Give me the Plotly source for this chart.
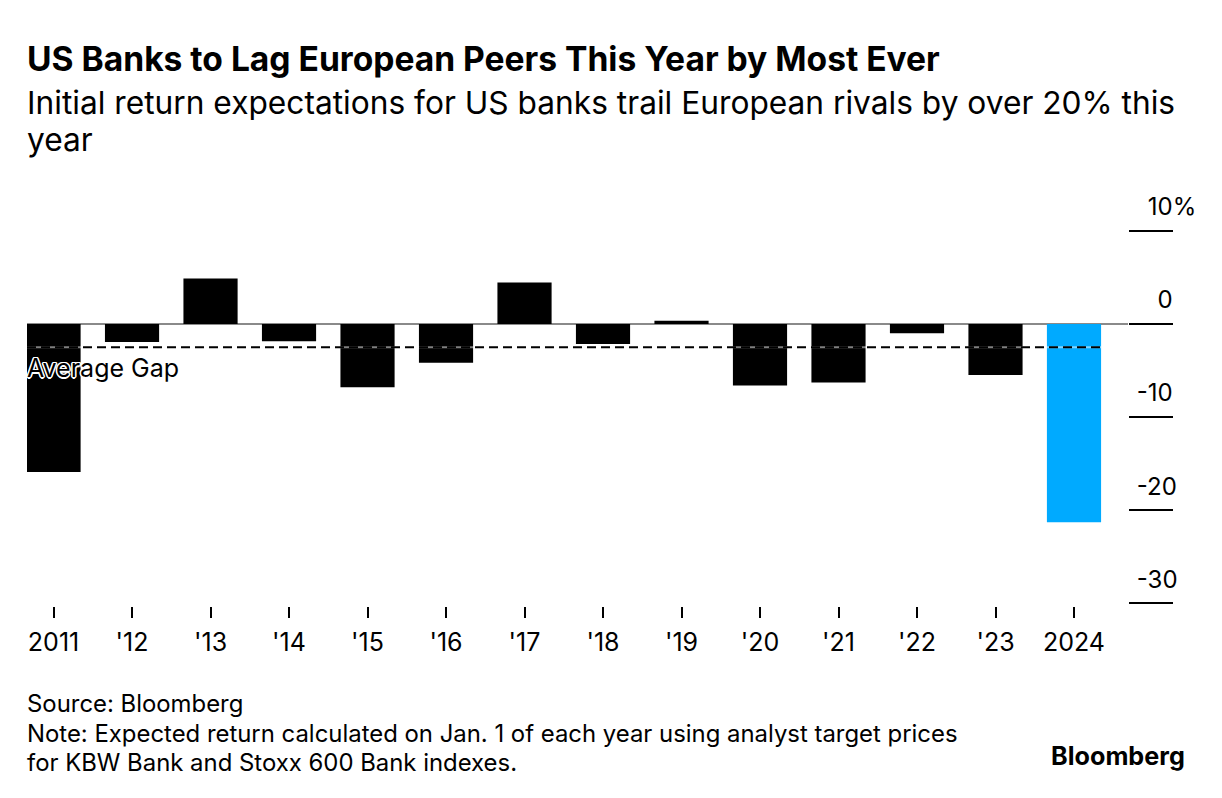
import plotly.graph_objects as go

years = ["2011", "'12", "'13", "'14", "'15", "'16", "'17", "'18", "'19", "'20", "'21", "'22", "'23", "2024"]
gap = [-15.9, -1.94, 4.87, -1.86, -6.8, -4.16, 4.44, -2.15, 0.35, -6.63, -6.3, -1.0, -5.48, -21.3]
avg_gap = -2.5
y_ticks = [-30, -20, -10, 0, 10]
y_ticktext = ["-30", "-20", "-10", "0", "10%"]

FONT = "Inter"
colors = ["#000000"] * (len(years) - 1) + ["#00aaff"]

W, H = 1222, 798
L, R, T, B = 27, 94, 228, 192
pw = W - L - R
ph = H - T - B

def px(x):
    return (x - L) / pw

def py(y):
    return (H - B - y) / ph

# pad labels with invisible characters so digits align like the reference
HID = "<span style='color:rgba(0,0,0,0)'>{}</span>"
def pad_label(s):
    if s.startswith("-"):
        return s
    if s == "0":
        return HID.format("-1") + s
    return HID.format("-") + s

X0 = -0.338
X1 = len(years) - 1 + 0.345
fig = go.Figure()
fig.add_trace(go.Bar(
    x=list(range(len(years))), y=gap, marker=dict(color=colors, line=dict(width=0)),
    width=0.69, hoverinfo="skip",
))

# average line: translucent light base + black dashes on top
fig.add_shape(type="line", xref="x", yref="y", x0=X0, x1=X1, y0=avg_gap, y1=avg_gap,
              line=dict(color="rgba(255,255,255,0.5)", width=2), layer="above")
fig.add_shape(type="line", xref="x", yref="y", x0=X0, x1=X1, y0=avg_gap, y1=avg_gap,
              line=dict(color="#000", width=2, dash="9px,5px"), layer="above")

halo = ("-1px -1px 0 #fff, 1px -1px 0 #fff, -1px 1px 0 #fff, 1px 1px 0 #fff, "
        "0 1.5px 0 #fff, 0 -1.5px 0 #fff, 1.5px 0 0 #fff, -1.5px 0 0 #fff")
fig.add_annotation(x=X0, y=avg_gap, xref="x", yref="y", text="Average Gap", showarrow=False,
                   xanchor="left", yanchor="top", yshift=-4, xshift=-2,
                   font=dict(family=FONT, size=25, color="#000", shadow=halo))

texts = [
    ("US Banks to Lag European Peers This Year by Most Ever", 58, 33.6, True),
    ("Initial return expectations for US banks trail European rivals by over 20% this", 102, 31.7, False),
    ("year", 139, 31.7, False),
    ("Source: Bloomberg", 703, 23.9, False),
    ("Note: Expected return calculated on Jan. 1 of each year using analyst target prices", 733, 23.9, False),
    ("for KBW Bank and Stoxx 600 Bank indexes.", 762, 23.9, False),
]
for t, y, s, bold in texts:
    fig.add_annotation(x=px(25), y=py(y), xref="paper", yref="paper", text=f"<b>{t}</b>" if bold else t,
                       showarrow=False, xanchor="left", yanchor="middle",
                       font=dict(family=FONT, size=s, color="#000"))
fig.add_annotation(x=px(1187), y=py(756), xref="paper", yref="paper", text="<b>Bloomberg</b>",
                   showarrow=False, xanchor="right", yanchor="middle",
                   font=dict(family=FONT, size=25.2, color="#000"))

fig.update_layout(
    width=W, height=H, margin=dict(l=L, r=R, t=T, b=B, autoexpand=False),
    paper_bgcolor="#fff", plot_bgcolor="#fff", showlegend=False,
    xaxis=dict(range=[X0, 13.688], tickmode="array", tickvals=list(range(len(years))), ticktext=years,
               ticks="outside", ticklen=11, tickwidth=1.5, tickcolor="#000", showline=False,
               showgrid=False, zeroline=False, automargin=False, ticklabelstandoff=3,
               tickfont=dict(family=FONT, size=25, color="#000")),
    yaxis=dict(range=[-30.3, 10.3], side="right", tickmode="array", tickvals=y_ticks,
               ticktext=[pad_label(s) for s in y_ticktext],
               ticks="outside", ticklen=44, tickwidth=2, tickcolor="#000", showline=False,
               showgrid=False, zeroline=True, zerolinecolor="#8a8a8a", zerolinewidth=1.5,
               ticklabelshift=-24, ticklabelstandoff=-41, automargin=False,
               tickfont=dict(family=FONT, size=24, color="#000")),
)

fig.write_html("out.html", config={"displayModeBar": False},
               post_script="document.body.style.margin='0';")
